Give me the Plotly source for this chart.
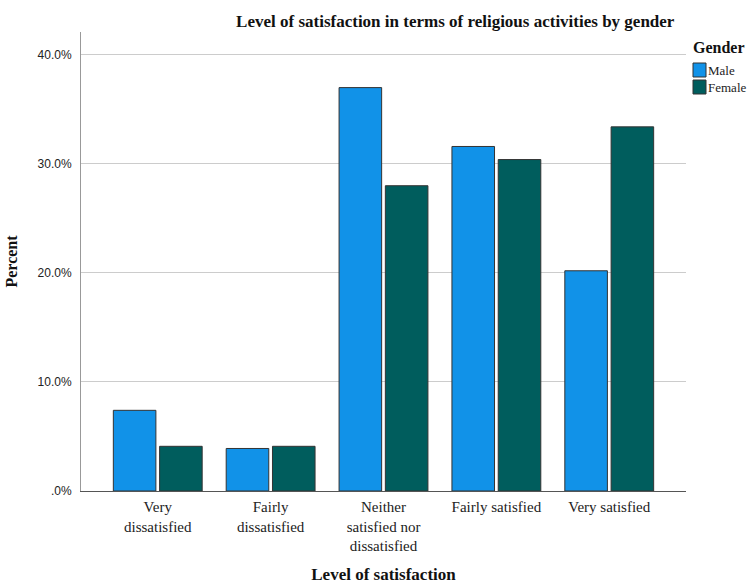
import plotly.graph_objects as go

# Survey results: share of respondents per satisfaction level, by gender
categories = [
    "Very<br>dissatisfied",
    "Fairly<br>dissatisfied",
    "Neither<br>satisfied nor<br>dissatisfied",
    "Fairly satisfied",
    "Very satisfied",
]
male_pct = [7.4, 3.9, 37.0, 31.6, 20.2]
female_pct = [4.1, 4.1, 28.0, 30.4, 33.4]

y_tick_vals = [0, 10, 20, 30, 40]
y_tick_text = [".0%", "10.0%", "20.0%", "30.0%", "40.0%"]

MALE_COLOR = "#1192e8"
FEMALE_COLOR = "#005d5d"
SERIF = "Liberation Serif, Times New Roman, serif"
SANS = "Liberation Sans, Arial, sans-serif"

fig = go.Figure()
fig.add_trace(go.Bar(
    name="Male", x=categories, y=male_pct,
    marker=dict(color=MALE_COLOR, line=dict(color="#333333", width=1)),
))
fig.add_trace(go.Bar(
    name="Female", x=categories, y=female_pct,
    marker=dict(color=FEMALE_COLOR, line=dict(color="#333333", width=1)),
))

fig.update_layout(
    width=750, height=585,
    margin=dict(l=81, r=64, t=32, b=94),
    paper_bgcolor="white", plot_bgcolor="white",
    barmode="group", bargap=0.18, bargroupgap=0.08,
    showlegend=False,
    title=dict(
        text="Level of satisfaction in terms of religious activities by gender",
        font=dict(family=SERIF, size=17, color="#111111", weight="bold"),
        x=0.607, xanchor="center", y=0.964, yanchor="middle",
    ),
    xaxis=dict(
        type="category", range=[-0.68, 4.68], automargin=False,
        showline=True, linecolor="#555555", linewidth=1,
        ticks="", showgrid=False, ticklabelstandoff=2,
        tickfont=dict(family=SERIF, size=15, color="#222222"),
        title=dict(text="Level of satisfaction",
                   font=dict(family=SERIF, size=17, color="#111111", weight="bold")),
    ),
    yaxis=dict(
        range=[0, 42.1], automargin=False,
        tickvals=y_tick_vals, ticktext=y_tick_text,
        showline=True, linecolor="#999999", linewidth=1,
        showgrid=True, gridcolor="#cccccc", gridwidth=1,
        zeroline=False, ticks="", ticklabelstandoff=6,
        tickfont=dict(family=SANS, size=12, color="#222222"),
        title=dict(text="Percent",
                   font=dict(family=SERIF, size=16, color="#111111", weight="bold")),
    ),
)

# Legend block on the right: heading plus colour swatches
plot_h = 585 - 32 - 94
plot_w = 750 - 81 - 64
fig.add_annotation(
    text="<b>Gender</b>", xref="paper", yref="paper",
    x=(693 - 81) / plot_w, y=(585 - 94 - 47) / plot_h,
    xanchor="left", yanchor="middle", xshift=-2,
    showarrow=False, font=dict(family=SERIF, size=16, color="#111111"),
)
legend_items = [("Male", MALE_COLOR), ("Female", FEMALE_COLOR)]
for i, (label, color) in enumerate(legend_items):
    cy = 70 + 17 * i
    y_top = (585 - 94 - (cy - 7)) / plot_h
    y_bot = (585 - 94 - (cy + 7)) / plot_h
    x0 = (693 - 81) / plot_w
    x1 = (706 - 81) / plot_w
    fig.add_shape(type="rect", xref="paper", yref="paper",
                  x0=x0, x1=x1, y0=y_bot, y1=y_top,
                  fillcolor=color, line=dict(color="#333333", width=1))
    fig.add_annotation(
        text=label, xref="paper", yref="paper",
        x=(706 - 81) / plot_w, y=(585 - 94 - cy) / plot_h,
        xanchor="left", yanchor="middle", showarrow=False,
        font=dict(family=SERIF, size=13, color="#222222"),
    )

fig.write_html("out.html")
